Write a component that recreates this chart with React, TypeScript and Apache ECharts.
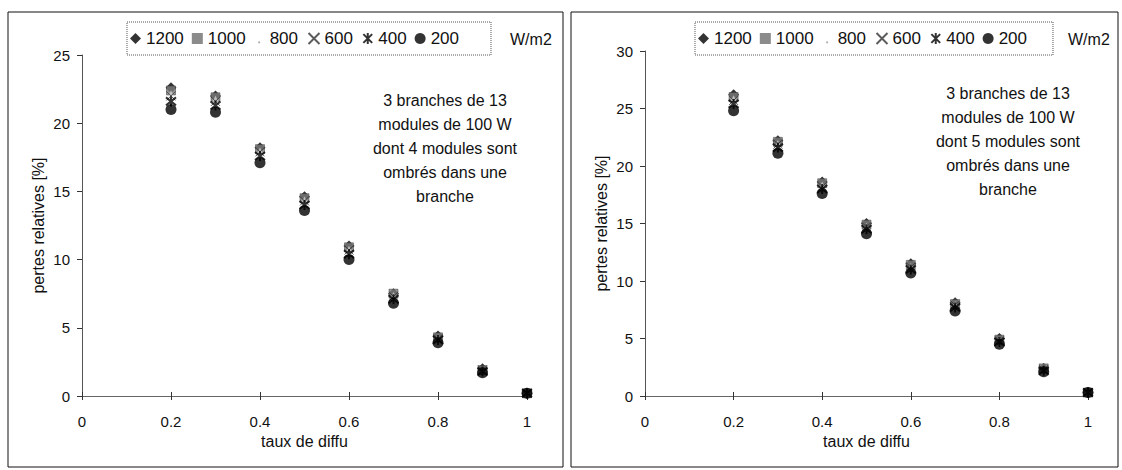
import React, { useEffect, useRef } from "react";
import * as echarts from "echarts";

// Taux de diffus (x) shared by both panels
const diffuseRates = [0.2, 0.3, 0.4, 0.5, 0.6, 0.7, 0.8, 0.9, 1.0];
const irradianceNames = ["1200", "1000", "800", "600", "400", "200"];
const xTickLabels = ["0", "0.2", "0.4", "0.6", "0.8", "1"];

// Left panel: 4 shaded modules in one string — relative losses [%]
const left1200 = [22.6, 22.0, 18.2, 14.6, 11.0, 7.5, 4.4, 2.0, 0.2];
const left1000 = [22.4, 21.9, 18.1, 14.5, 10.9, 7.5, 4.3, 1.9, 0.2];
const left800 = [22.2, 21.8, 18.0, 14.4, 10.8, 7.4, 4.3, 1.9, 0.2];
const left600 = [22.0, 21.6, 17.9, 14.3, 10.7, 7.3, 4.2, 1.9, 0.2];
const left400 = [21.6, 21.3, 17.6, 14.0, 10.4, 7.1, 4.1, 1.8, 0.2];
const left200 = [21.0, 20.8, 17.1, 13.6, 10.0, 6.8, 3.9, 1.7, 0.2];

// Right panel: 5 shaded modules in one string — relative losses [%]
const right1200 = [26.2, 22.2, 18.6, 15.0, 11.5, 8.1, 5.0, 2.4, 0.3];
const right1000 = [26.0, 22.1, 18.5, 14.9, 11.4, 8.0, 4.9, 2.4, 0.3];
const right800 = [25.9, 22.0, 18.4, 14.8, 11.3, 8.0, 4.9, 2.3, 0.3];
const right600 = [25.7, 21.9, 18.2, 14.7, 11.2, 7.9, 4.8, 2.3, 0.3];
const right400 = [25.4, 21.6, 18.0, 14.5, 11.0, 7.7, 4.7, 2.2, 0.3];
const right200 = [24.8, 21.1, 17.6, 14.1, 10.7, 7.4, 4.5, 2.1, 0.3];

const leftNote = "3 branches de 13\nmodules de 100 W\ndont 4 modules sont\nombrés dans une\nbranche";
const rightNote = "3 branches de 13\nmodules de 100 W\ndont 5 modules sont\nombrés dans une\nbranche";

const FONT = "'Liberation Sans', Arial, sans-serif";
const INK = "#111";

// marker look for each irradiance level
const markerStyles: Record<string, any> = {
  "1200": { symbol: "diamond", symbolSize: 11, itemStyle: { color: "#000" } },
  "1000": { symbol: "rect", symbolSize: 9, itemStyle: { color: "#7a7a7a", borderColor: "#333", borderWidth: 0.6 } },
  "800": { symbol: "triangle", symbolSize: 6, itemStyle: { color: "#cfcfcf" } },
  "600": {
    symbol: "path://M0,0L10,10M10,0L0,10",
    symbolSize: 9,
    itemStyle: { color: "none", borderColor: "#333", borderWidth: 1 },
  },
  "400": {
    symbol: "path://M1,1L9,9M9,1L1,9M5,0L5,10",
    symbolSize: 10,
    itemStyle: { color: "none", borderColor: "#000", borderWidth: 2 },
  },
  "200": { symbol: "circle", symbolSize: 11, itemStyle: { color: "#000" } },
};

// legend keys: the 800 key is only a small dot at the text baseline
const legendItems = [
  { name: "1200" },
  { name: "1000", icon: "rect", itemStyle: { color: "#6e6e6e", borderWidth: 0 } },
  {
    name: "800",
    icon: "path://M0,0L0.01,0M4,8.5a1,1 0 1,0 2,0a1,1 0 1,0 -2,0M9.99,10L10,10",
    itemStyle: { color: "#9a9a9a", borderWidth: 0 },
  },
  { name: "600" },
  { name: "400" },
  { name: "200" },
];

const leftSets: Record<string, number[]> = {
  "1200": left1200, "1000": left1000, "800": left800, "600": left600, "400": left400, "200": left200,
};
const rightSets: Record<string, number[]> = {
  "1200": right1200, "1000": right1000, "800": right800, "600": right600, "400": right400, "200": right200,
};

function buildSeries(sets: Record<string, number[]>, axisIndex: number) {
  return irradianceNames.map((name) => ({
    type: "scatter",
    name,
    xAxisIndex: axisIndex,
    yAxisIndex: axisIndex,
    data: diffuseRates.map((x, i) => [x, sets[name][i]]),
    ...markerStyles[name],
  }));
}

function xAxisFor(gridIndex: number) {
  return {
    type: "value",
    gridIndex,
    position: "bottom",
    min: 0,
    max: 1,
    interval: 0.2,
    name: "taux de diffu",
    nameLocation: "middle",
    nameGap: 34,
    nameTextStyle: { fontFamily: FONT, fontSize: 16, color: INK },
    axisLine: { show: true, onZero: false, lineStyle: { color: "#666", width: 1 } },
    axisTick: { show: true, length: 4, lineStyle: { color: "#333" } },
    axisLabel: {
      fontFamily: FONT,
      fontSize: 15,
      color: INK,
      margin: 18,
      formatter: (v: number) => xTickLabels[Math.round(v / 0.2)],
    },
    splitLine: { show: false },
  };
}

// inner half of the crossing tick marks on the x axis
function xInnerTicksFor(gridIndex: number) {
  return {
    type: "value",
    gridIndex,
    position: "bottom",
    min: 0,
    max: 1,
    interval: 0.2,
    axisLine: { show: false, onZero: false },
    axisTick: { show: true, inside: true, length: 4, lineStyle: { color: "#333" } },
    axisLabel: { show: false },
    splitLine: { show: false },
  };
}

function yAxisFor(gridIndex: number, max: number) {
  return {
    type: "value",
    gridIndex,
    min: 0,
    max,
    interval: 5,
    name: "pertes relatives [%]",
    nameLocation: "middle",
    nameGap: 36,
    nameRotate: 90,
    nameTextStyle: { fontFamily: FONT, fontSize: 16, color: INK },
    axisLine: { show: true, lineStyle: { color: "#555", width: 1 } },
    axisTick: { show: true, length: 5, lineStyle: { color: "#333" } },
    axisLabel: { fontFamily: FONT, fontSize: 15, color: INK, margin: 12 },
    splitLine: { show: false },
  };
}

function legendFor(left: number, rightPad: number) {
  return {
    left,
    top: 22,
    orient: "horizontal",
    data: legendItems,
    itemWidth: 11,
    itemHeight: 11,
    itemGap: 8,
    padding: [8, rightPad, 8, 3],
    borderColor: "#555",
    borderWidth: 1,
    borderType: "dotted",
    selectedMode: false,
    textStyle: { fontFamily: FONT, fontSize: 17, color: INK },
  };
}

export default function App() {
  const ref = useRef<HTMLDivElement>(null);

  useEffect(() => {
    if (!ref.current) return;
    const chart = echarts.init(ref.current, null, { renderer: "svg" });
    chart.setOption({
      animation: false,
      backgroundColor: "#fff",
      grid: [
        { left: 82, right: 595, top: 55, bottom: 74, containLabel: false },
        { left: 645, right: 34, top: 51, bottom: 74, containLabel: false },
      ],
      xAxis: [xAxisFor(0), xAxisFor(1), xInnerTicksFor(0), xInnerTicksFor(1)],
      yAxis: [yAxisFor(0, 25), yAxisFor(1, 30)],
      legend: [legendFor(127, 32), legendFor(695, 26)],
      series: [...buildSeries(leftSets, 0), ...buildSeries(rightSets, 1)],
      graphic: [
        {
          type: "rect",
          shape: { x: 8, y: 12, width: 555, height: 455 },
          style: { fill: "none", stroke: "#111", lineWidth: 1 },
          silent: true,
        },
        {
          type: "rect",
          shape: { x: 571, y: 12, width: 547, height: 455 },
          style: { fill: "none", stroke: "#111", lineWidth: 1 },
          silent: true,
        },
        {
          type: "text",
          x: 510,
          y: 39,
          style: { text: "W/m2", fontFamily: FONT, fontSize: 16, fill: INK, verticalAlign: "middle" },
        },
        {
          type: "text",
          x: 1068,
          y: 39,
          style: { text: "W/m2", fontFamily: FONT, fontSize: 16, fill: INK, verticalAlign: "middle" },
        },
        {
          type: "text",
          x: 445,
          y: 88,
          style: {
            text: leftNote,
            fontFamily: FONT,
            fontSize: 16,
            lineHeight: 24,
            fill: INK,
            align: "center",
            verticalAlign: "top",
          },
        },
        {
          type: "text",
          x: 1008,
          y: 81,
          style: {
            text: rightNote,
            fontFamily: FONT,
            fontSize: 16,
            lineHeight: 24,
            fill: INK,
            align: "center",
            verticalAlign: "top",
          },
        },
      ],
    });
    return () => chart.dispose();
  }, []);

  return (
    <div
      ref={ref}
      style={{ position: "fixed", left: 0, top: 0, width: 1122, height: 470, background: "#fff" }}
    />
  );
}
